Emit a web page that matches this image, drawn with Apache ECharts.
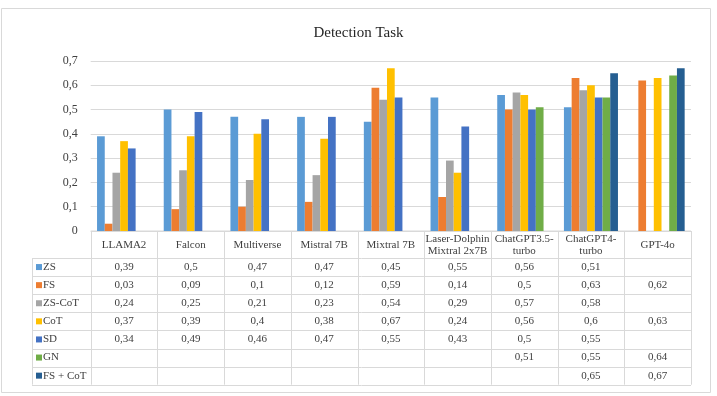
<!DOCTYPE html>
<html>
<head>
<meta charset="utf-8">
<script src="https://cdn.jsdelivr.net/npm/echarts@6/dist/echarts.min.js"></script>
<style>
  html, body { margin: 0; padding: 0; background: #fff; }
  #main { width: 717px; height: 396px; }
</style>
</head>
<body>
<div id="main"></div>
<script>
// categories (table header) and series values
const categories = ['LLAMA2', 'Falcon', 'Multiverse', 'Mistral 7B', 'Mixtral 7B',
  'Laser-Dolphin\nMixtral 2x7B', 'ChatGPT3.5-\nturbo', 'ChatGPT4-\nturbo', 'GPT-4o'];
const seriesNames = ['ZS', 'FS', 'ZS-CoT', 'CoT', 'SD', 'GN', 'FS + CoT'];
const zs = [0.39, 0.5, 0.47, 0.47, 0.45, 0.55, 0.56, 0.51, null];
const fs = [0.03, 0.09, 0.1, 0.12, 0.59, 0.14, 0.5, 0.63, 0.62];
const zsCot = [0.24, 0.25, 0.21, 0.23, 0.54, 0.29, 0.57, 0.58, null];
const cot = [0.37, 0.39, 0.4, 0.38, 0.67, 0.24, 0.56, 0.6, 0.63];
const sd = [0.34, 0.49, 0.46, 0.47, 0.55, 0.43, 0.5, 0.55, null];
const gn = [null, null, null, null, null, null, 0.51, 0.55, 0.64];
const fsCot = [null, null, null, null, null, null, null, 0.65, 0.67];
const yTicks = [0, 0.1, 0.2, 0.3, 0.4, 0.5, 0.6, 0.7];

const allData = [zs, fs, zsCot, cot, sd, gn, fsCot];
const colors = ['#5B9BD5', '#ED7D31', '#A5A5A5', '#FFC000', '#4472C4', '#70AD47', '#255E91'];
const serif = '"Liberation Serif", "DejaVu Serif", serif';
const lineColor = '#d9d9d9';
const textColor = '#404040';

// comma decimal like the original
const fmt = (v) => (v === null || v === undefined) ? '' : String(v).replace('.', ',');

const chart = echarts.init(document.getElementById('main'));

chart.setOption({
  animation: false,
  title: {
    text: 'Detection Task',
    left: 'center',
    top: 21,
    textStyle: { fontFamily: serif, fontSize: 15, fontWeight: 'normal', color: '#262626' },
  },
  grid: { left: 90.7, right: 26, top: 61, bottom: 165, containLabel: false },
  xAxis: {
    type: 'category',
    data: categories,
    axisLine: { show: false },
    axisTick: { show: false },
    axisLabel: { show: false },
  },
  yAxis: {
    type: 'value',
    min: yTicks[0],
    max: yTicks[yTicks.length - 1],
    interval: 0.1,
    axisLine: { show: false },
    axisTick: { show: false },
    axisLabel: {
      fontFamily: serif,
      fontSize: 12,
      color: textColor,
      margin: 13,
      formatter: (v) => fmt(Math.round(v * 10) / 10),
    },
    splitLine: { lineStyle: { color: lineColor, width: 1 } },
  },
  series: seriesNames.map((name, i) => ({
    name: name,
    type: 'bar',
    data: allData[i],
    barGap: '0%',
    barCategoryGap: '19%',
    itemStyle: { color: colors[i] },
  })),
});

// data table under the plot, aligned to the category axis
const buildTable = () => {
  const n = categories.length;
  const c0 = chart.convertToPixel({ xAxisIndex: 0 }, 0);
  const c1 = chart.convertToPixel({ xAxisIndex: 0 }, 1);
  const band = c1 - c0;
  const xLeft = c0 - band / 2;
  const xRight = xLeft + band * n;
  const yTop = chart.convertToPixel({ yAxisIndex: 0 }, 0);
  const headerBottom = yTop + 27;
  const rowH = 18.1;
  const legendLeft = 32;
  const yBottom = headerBottom + rowH * seriesNames.length;
  const els = [];
  const line = (x1, y1, x2, y2) => els.push({
    type: 'line',
    shape: { x1: x1, y1: y1, x2: x2, y2: y2 },
    style: { stroke: lineColor, lineWidth: 1 },
    silent: true,
  });
  const text = (x, y, s, align) => els.push({
    type: 'text',
    x: x, y: y,
    style: {
      text: s, fill: textColor, font: '11px ' + serif,
      align: align || 'center', verticalAlign: 'middle', lineHeight: 12,
    },
    silent: true,
  });

  // outer chart border
  els.push({
    type: 'rect',
    shape: { x: 1.5, y: 8.5, width: 709, height: 384 },
    style: { fill: null, stroke: lineColor, lineWidth: 1 },
    silent: true, z: -1,
  });

  // horizontal lines
  line(xLeft, yTop, xRight, yTop);
  for (let r = 0; r <= seriesNames.length; r++) {
    const y = Math.round(headerBottom + rowH * r) + 0.5;
    line(legendLeft, y, xRight, y);
  }
  // vertical lines
  line(legendLeft + 0.5, headerBottom, legendLeft + 0.5, yBottom);
  for (let c = 0; c <= n; c++) {
    const x = Math.round(xLeft + band * c) + 0.5;
    line(x, yTop, x, yBottom);
  }
  // header labels
  categories.forEach((cat, c) => {
    text(xLeft + band * (c + 0.5), yTop + 14, cat);
  });
  // legend keys + values
  seriesNames.forEach((name, r) => {
    const yc = headerBottom + rowH * (r + 0.5);
    els.push({
      type: 'rect',
      shape: { x: 36, y: yc - 3, width: 6, height: 6 },
      style: { fill: colors[r] },
      silent: true,
    });
    text(43, yc, name, 'left');
    allData[r].forEach((v, c) => {
      if (v !== null) text(xLeft + band * (c + 0.5), yc, fmt(v));
    });
  });
  chart.setOption({ graphic: { elements: els } });
};

buildTable();
</script>
</body>
</html>
